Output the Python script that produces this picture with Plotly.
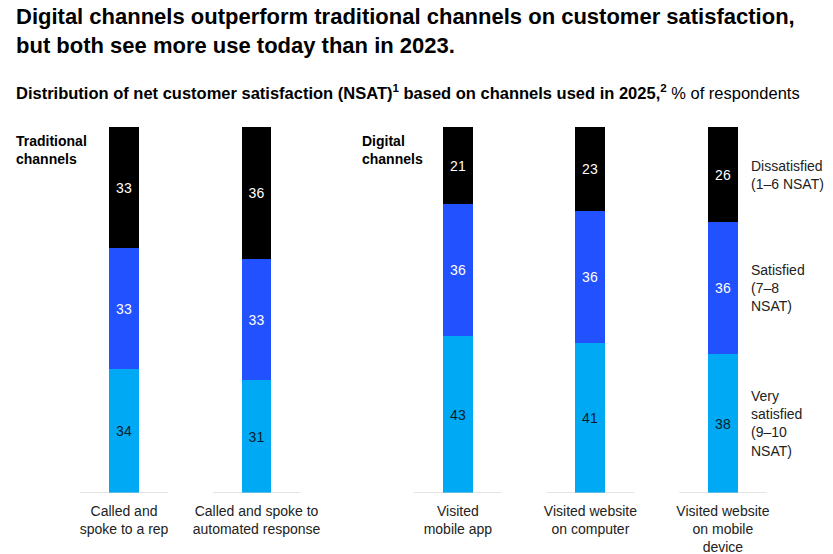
import plotly.graph_objects as go

channels = [
    "Called and<br>spoke to a rep",
    "Called and spoke to<br>automated response",
    "Visited<br>mobile app",
    "Visited website<br>on computer",
    "Visited website<br>on mobile<br>device",
]
very_satisfied = [34, 31, 43, 41, 38]
satisfied = [33, 33, 36, 36, 36]
dissatisfied = [33, 36, 21, 23, 26]

segment_names = ["Very<br>satisfied<br>(9–10<br>NSAT)", "Satisfied<br>(7–8<br>NSAT)", "Dissatisfied<br>(1–6 NSAT)"]
group_names = ["Traditional<br>channels", "Digital<br>channels"]

title = "<b>Digital channels outperform traditional channels on customer satisfaction,<br>but both see more use today than in 2023.</b>"
subtitle = ("<b>Distribution of net customer satisfaction (NSAT)<sup>1</sup> based on channels used in 2025,<sup>2</sup></b>"
            " % of respondents")

# layout
W, H = 833, 554
pos = [0, 1, 2.52, 3.52, 4.52]
bar_w = 0.226
colors = ["#00A9F4", "#2251FF", "#000000"]
text_colors = ["#051C2C", "#FFFFFF", "#FFFFFF"]
FONT = "Liberation Sans, Arial, sans-serif"

fig = go.Figure()
for vals, col, tcol in zip([very_satisfied, satisfied, dissatisfied], colors, text_colors):
    fig.add_trace(go.Bar(
        x=pos, y=vals, width=bar_w,
        marker=dict(color=col, line=dict(width=0)),
        text=vals, textposition="inside", insidetextanchor="middle",
        textfont=dict(color=tcol, size=14, family=FONT),
        textangle=0, showlegend=False, hoverinfo="skip",
    ))

# baselines under each bar
for p in pos:
    fig.add_shape(type="line", xref="x", yref="y", x0=p - 0.33, x1=p + 0.33, y0=0, y1=0,
                  line=dict(color="#c8c8c8", width=1))

# segment labels next to last bar
last = len(pos) - 1
bottoms = [0, very_satisfied[last], very_satisfied[last] + satisfied[last]]
for name, b, v in zip(segment_names, bottoms, [very_satisfied[last], satisfied[last], dissatisfied[last]]):
    fig.add_annotation(x=pos[last] + 0.2, y=b + v / 2, xref="x", yref="y", text=name,
                       showarrow=False, xanchor="left", yanchor="middle", align="left",
                       font=dict(size=14, color="#222222", family=FONT))

# group headings
for gx, gname in zip([14, 360], group_names):
    fig.add_annotation(x=gx / W, y=1.0, xref="paper", yref="paper", yshift=-4,
                       text="<b>" + gname + "</b>",
                       showarrow=False, xanchor="left", yanchor="top", align="left",
                       font=dict(size=14, color="#000000", family=FONT))

# title and subtitle
fig.add_annotation(x=14 / W, y=1, xref="paper", yref="paper", yshift=127 - 2, text=title,
                   showarrow=False, xanchor="left", yanchor="top", align="left",
                   font=dict(size=22, color="#000000", family=FONT))
fig.add_annotation(x=14 / W, y=1, xref="paper", yref="paper", yshift=127 - 80, text=subtitle,
                   showarrow=False, xanchor="left", yanchor="top", align="left",
                   font=dict(size=16.5, color="#000000", family=FONT))

fig.update_layout(
    width=W, height=H,
    margin=dict(l=0, r=0, t=127, b=61, autoexpand=False),
    barmode="stack", bargap=0,
    plot_bgcolor="white", paper_bgcolor="white",
    font=dict(family=FONT, color="#222222"),
    xaxis=dict(range=[-124 / 132.5, 709 / 132.5], tickvals=pos, ticktext=channels,
               showgrid=False, zeroline=False, showline=False, ticks="", automargin=False,
               ticklabelstandoff=8,
               tickfont=dict(size=14, color="#222222", family=FONT)),
    yaxis=dict(range=[0, 100], visible=False, automargin=False),
)

fig.write_html("out.html", config={"displayModeBar": False},
               post_script="document.body.style.margin='0';")
